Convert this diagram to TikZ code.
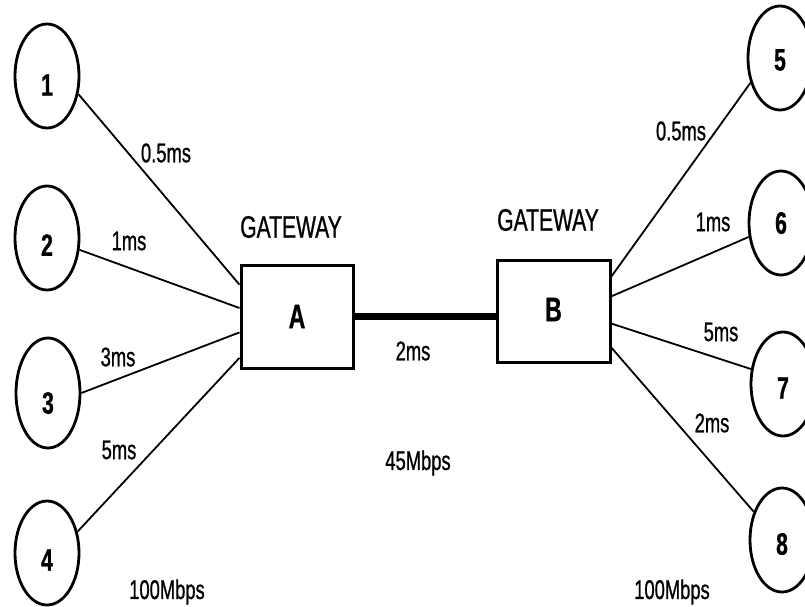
\documentclass[tikz,border=0pt]{standalone}
\usepackage{fontspec}
\setmainfont[FakeStretch=0.68,FakeBold=0.8]{Liberation Sans}
\usetikzlibrary{shapes.geometric,calc}
\begin{document}
\begin{tikzpicture}[x=1pt,y=-1pt,
  host/.style={ellipse,draw,line width=2.8pt,minimum width=64pt,minimum height=104pt,inner sep=0pt},
  gw/.style={draw,line width=3pt,minimum width=112pt,minimum height=103pt,inner sep=0pt},
  link/.style={line width=1.8pt},
  trunk/.style={line width=6.5pt},
  lbl/.style={font=\fontsize{27}{29}\selectfont,inner sep=0pt},
  gwlbl/.style={font=\fontsize{31}{33}\selectfont,inner sep=0pt},
  num/.style={font=\bfseries\fontsize{31}{33}\selectfont,inner sep=0pt},
  gwnum/.style={font=\bfseries\fontsize{34}{36}\selectfont,inner sep=0pt}
]
\useasboundingbox (0,0) rectangle (805,607);
% hosts
\node[host,label={[num,yshift=-9pt]center:1}] (n1) at (47,76) {};
\node[host,label={[num,yshift=-7pt]center:2}] (n2) at (47,238) {};
\node[host,minimum height=110pt,label={[num,yshift=-10pt]center:3}] (n3) at (48,393) {};
\node[host,label={[num,yshift=-7pt]center:4}] (n4) at (47,553) {};
\node[host,label={[num,yshift=-2pt]center:5}] (n5) at (780,58) {};
\node[host,label={[num,yshift=0pt]center:6}] (n6) at (781,223) {};
\node[host,label={[num,yshift=-4pt]center:7}] (n7) at (783,384) {};
\node[host,label={[num,yshift=-4pt]center:8}] (n8) at (782,540) {};
% gateways
\node[gw,label={[gwnum]center:A}] (A) at (297,316.5) {};
\node[gw,minimum width=113pt,minimum height=102pt,label={[gwnum,yshift=1.5pt]center:B}] (B) at (553.5,311) {};
\node[gwlbl] (gwA) at (291,227) {GATEWAY};
\node[gwlbl] (gwB) at (548,220) {GATEWAY};
% attachment points
\coordinate (a1) at ($(A.north west)!0.20!(A.south west)$);
\coordinate (a2) at ($(A.north west)!0.42!(A.south west)$);
\coordinate (a3) at ($(A.north west)!0.65!(A.south west)$);
\coordinate (a4) at ($(A.north west)!0.89!(A.south west)$);
\coordinate (b5) at ($(B.north east)!0.17!(B.south east)$);
\coordinate (b6) at ($(B.north east)!0.36!(B.south east)$);
\coordinate (b7) at ($(B.north east)!0.62!(B.south east)$);
\coordinate (b8) at ($(B.north east)!0.85!(B.south east)$);
% links
\draw[link] (n1.-30) -- (a1);
\draw[link] (n2) -- (a2);
\draw[link] (n3.east) -- (a3);
\draw[link] (n4.35) -- (a4);
\draw[link] (n5.220) -- (b5);
\draw[link] (n6) -- (b6);
\draw[link] (n7.155) -- (b7);
\draw[link] (n8.135) -- (b8);
\draw[trunk] (A.east) -- (A.east -| B.west);
% labels
\node[lbl] (l1) at (166,153) {0.5ms};
\node[lbl] (l2) at (129,241) {1ms};
\node[lbl] (l3) at (118,357) {3ms};
\node[lbl] (l4) at (119,450) {5ms};
\node[lbl] (l5) at (681,131) {0.5ms};
\node[lbl] (l6) at (713,222) {1ms};
\node[lbl] (l7) at (721,332) {5ms};
\node[lbl] (l8) at (712,423) {2ms};
\node[lbl] (lt) at (413,351) {2ms};
\node[lbl] (bw) at (418,463) {45Mbps};
\node[lbl] (bwl) at (167,592) {100Mbps};
\node[lbl] (bwr) at (672,592) {100Mbps};
\end{tikzpicture}
\end{document}
